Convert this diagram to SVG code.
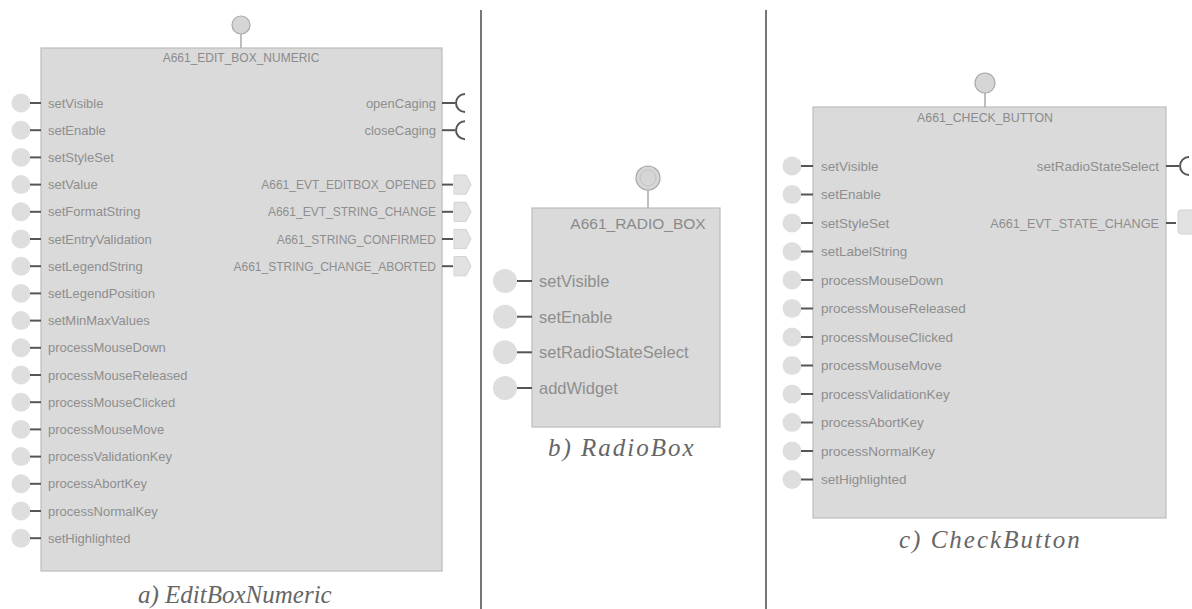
<svg xmlns="http://www.w3.org/2000/svg" width="1192" height="609" viewBox="0 0 1192 609">
<style>
.box{fill:#dadada;stroke:#bdbdbd;stroke-width:1.2}
.port{fill:#dedede}
.top{fill:#d6d6d6;stroke:#a8a8a8;stroke-width:1.2}
.stem{stroke:#a8a8a8;stroke-width:1.5}
.wire{stroke:#555;stroke-width:2}
.req{fill:none;stroke:#555;stroke-width:2}
.evt{fill:#e2e2e2;stroke:#d2d2d2;stroke-width:1}
.lbl{font-family:"Liberation Sans",Arial,sans-serif;fill:#8e8e8e}
.s13{font-size:13px}
.s135{font-size:13.5px}
.s165{font-size:16.5px}
.caps12{font-size:12px}
.caps127{font-size:12.7px}
.ttl{font-family:"Liberation Sans",Arial,sans-serif;fill:#8a8a8a;text-anchor:middle}
.end{text-anchor:end}
.cap{font-family:"Liberation Serif","Times New Roman",serif;font-style:italic;font-size:25px;fill:#666}
.div{stroke:#777;stroke-width:2}
</style>
<g id="dividers">
<line class="div" x1="481" y1="10" x2="481" y2="609"/>
<line class="div" x1="766" y1="10" x2="766" y2="609"/>
</g>

<g id="editbox">
<rect class="box" x="41" y="48" width="401" height="523"/>
<text class="ttl" x="241" y="62" font-size="12">A661_EDIT_BOX_NUMERIC</text>
<g class="lbl s13">
<text x="48" y="107.5">setVisible</text>
<text x="48" y="134.7">setEnable</text>
<text x="48" y="161.9">setStyleSet</text>
<text x="48" y="189.1">setValue</text>
<text x="48" y="216.3">setFormatString</text>
<text x="48" y="243.5">setEntryValidation</text>
<text x="48" y="270.7">setLegendString</text>
<text x="48" y="297.9">setLegendPosition</text>
<text x="48" y="325.1">setMinMaxValues</text>
<text x="48" y="352.3">processMouseDown</text>
<text x="48" y="379.5">processMouseReleased</text>
<text x="48" y="406.7">processMouseClicked</text>
<text x="48" y="433.9">processMouseMove</text>
<text x="48" y="461.1">processValidationKey</text>
<text x="48" y="488.3">processAbortKey</text>
<text x="48" y="515.5">processNormalKey</text>
<text x="48" y="542.7">setHighlighted</text>
<text class="end" x="436" y="107.5">openCaging</text>
<text class="end" x="436" y="134.7">closeCaging</text>
<text class="end caps12" x="436" y="189.1">A661_EVT_EDITBOX_OPENED</text>
<text class="end caps12" x="436" y="216.3">A661_EVT_STRING_CHANGE</text>
<text class="end caps12" x="436" y="243.5">A661_STRING_CONFIRMED</text>
<text class="end caps12" x="436" y="270.7">A661_STRING_CHANGE_ABORTED</text>
</g>
</g>

<g id="radiobox">
<rect class="box" x="532" y="208" width="188" height="219"/>
<text class="ttl" x="638" y="229" font-size="15.5">A661_RADIO_BOX</text>
<g class="lbl s165">
<text x="539" y="287">setVisible</text>
<text x="539" y="322.7">setEnable</text>
<text x="539" y="358.3">setRadioStateSelect</text>
<text x="539" y="394">addWidget</text>
</g>
</g>

<g id="checkbutton">
<rect class="box" x="813" y="107" width="353" height="411"/>
<text class="ttl" x="985" y="122" font-size="12.3">A661_CHECK_BUTTON</text>
<g class="lbl s135">
<text x="821" y="170.5">setVisible</text>
<text x="821" y="199">setEnable</text>
<text x="821" y="227.5">setStyleSet</text>
<text x="821" y="256">setLabelString</text>
<text x="821" y="284.5">processMouseDown</text>
<text x="821" y="313">processMouseReleased</text>
<text x="821" y="341.5">processMouseClicked</text>
<text x="821" y="370">processMouseMove</text>
<text x="821" y="398.5">processValidationKey</text>
<text x="821" y="427">processAbortKey</text>
<text x="821" y="455.5">processNormalKey</text>
<text x="821" y="484">setHighlighted</text>
<text class="end" x="1159" y="170.5">setRadioStateSelect</text>
<text class="end caps127" x="1159" y="227.5">A661_EVT_STATE_CHANGE</text>
</g>
</g>

<g id="connectors">
<!-- edit box -->
<line class="stem" x1="241" y1="34" x2="241" y2="48"/>
<circle class="top" cx="241" cy="25" r="9"/>
<g id="eb-in">
<circle class="port" cx="21" cy="103" r="9.5"/><line class="wire" x1="30" y1="103" x2="41" y2="103"/>
<circle class="port" cx="21" cy="130.2" r="9.5"/><line class="wire" x1="30" y1="130.2" x2="41" y2="130.2"/>
<circle class="port" cx="21" cy="157.4" r="9.5"/><line class="wire" x1="30" y1="157.4" x2="41" y2="157.4"/>
<circle class="port" cx="21" cy="184.6" r="9.5"/><line class="wire" x1="30" y1="184.6" x2="41" y2="184.6"/>
<circle class="port" cx="21" cy="211.8" r="9.5"/><line class="wire" x1="30" y1="211.8" x2="41" y2="211.8"/>
<circle class="port" cx="21" cy="239" r="9.5"/><line class="wire" x1="30" y1="239" x2="41" y2="239"/>
<circle class="port" cx="21" cy="266.2" r="9.5"/><line class="wire" x1="30" y1="266.2" x2="41" y2="266.2"/>
<circle class="port" cx="21" cy="293.4" r="9.5"/><line class="wire" x1="30" y1="293.4" x2="41" y2="293.4"/>
<circle class="port" cx="21" cy="320.6" r="9.5"/><line class="wire" x1="30" y1="320.6" x2="41" y2="320.6"/>
<circle class="port" cx="21" cy="347.8" r="9.5"/><line class="wire" x1="30" y1="347.8" x2="41" y2="347.8"/>
<circle class="port" cx="21" cy="375" r="9.5"/><line class="wire" x1="30" y1="375" x2="41" y2="375"/>
<circle class="port" cx="21" cy="402.2" r="9.5"/><line class="wire" x1="30" y1="402.2" x2="41" y2="402.2"/>
<circle class="port" cx="21" cy="429.4" r="9.5"/><line class="wire" x1="30" y1="429.4" x2="41" y2="429.4"/>
<circle class="port" cx="21" cy="456.6" r="9.5"/><line class="wire" x1="30" y1="456.6" x2="41" y2="456.6"/>
<circle class="port" cx="21" cy="483.8" r="9.5"/><line class="wire" x1="30" y1="483.8" x2="41" y2="483.8"/>
<circle class="port" cx="21" cy="511" r="9.5"/><line class="wire" x1="30" y1="511" x2="41" y2="511"/>
<circle class="port" cx="21" cy="538.2" r="9.5"/><line class="wire" x1="30" y1="538.2" x2="41" y2="538.2"/>
</g>
<g id="eb-out">
<line class="wire" x1="442" y1="103" x2="455" y2="103"/><path class="req" d="M465 94 A9 9 0 0 0 465 112"/>
<line class="wire" x1="442" y1="130.2" x2="455" y2="130.2"/><path class="req" d="M465 121.2 A9 9 0 0 0 465 139.2"/>
<line class="wire" x1="442" y1="184.6" x2="453" y2="184.6"/><path class="evt" d="M454 175 H466 L471 184.6 L466 194.2 H454 Z"/>
<line class="wire" x1="442" y1="211.8" x2="453" y2="211.8"/><path class="evt" d="M454 202.2 H466 L471 211.8 L466 221.4 H454 Z"/>
<line class="wire" x1="442" y1="239" x2="453" y2="239"/><path class="evt" d="M454 229.4 H466 L471 239 L466 248.6 H454 Z"/>
<line class="wire" x1="442" y1="266.2" x2="453" y2="266.2"/><path class="evt" d="M454 256.6 H466 L471 266.2 L466 275.8 H454 Z"/>
</g>
<!-- radio box -->
<line class="stem" x1="648" y1="190" x2="648" y2="208"/>
<circle class="top" cx="648" cy="178" r="12"/>
<circle cx="648" cy="178" r="8" fill="none" stroke="#c4c4c4" stroke-width="1"/>
<g id="rb-in">
<circle class="port" cx="505" cy="281" r="12"/><line class="wire" x1="517" y1="281" x2="532" y2="281"/>
<circle class="port" cx="505" cy="316.7" r="12"/><line class="wire" x1="517" y1="316.7" x2="532" y2="316.7"/>
<circle class="port" cx="505" cy="352.3" r="12"/><line class="wire" x1="517" y1="352.3" x2="532" y2="352.3"/>
<circle class="port" cx="505" cy="388" r="12"/><line class="wire" x1="517" y1="388" x2="532" y2="388"/>
</g>
<!-- check button -->
<line class="stem" x1="985" y1="93" x2="985" y2="107"/>
<circle class="top" cx="985" cy="83" r="10"/>
<g id="cb-in">
<circle class="port" cx="792" cy="166" r="9.5"/><line class="wire" x1="801" y1="166" x2="813" y2="166"/>
<circle class="port" cx="792" cy="194.5" r="9.5"/><line class="wire" x1="801" y1="194.5" x2="813" y2="194.5"/>
<circle class="port" cx="792" cy="223" r="9.5"/><line class="wire" x1="801" y1="223" x2="813" y2="223"/>
<circle class="port" cx="792" cy="251.5" r="9.5"/><line class="wire" x1="801" y1="251.5" x2="813" y2="251.5"/>
<circle class="port" cx="792" cy="280" r="9.5"/><line class="wire" x1="801" y1="280" x2="813" y2="280"/>
<circle class="port" cx="792" cy="308.5" r="9.5"/><line class="wire" x1="801" y1="308.5" x2="813" y2="308.5"/>
<circle class="port" cx="792" cy="337" r="9.5"/><line class="wire" x1="801" y1="337" x2="813" y2="337"/>
<circle class="port" cx="792" cy="365.5" r="9.5"/><line class="wire" x1="801" y1="365.5" x2="813" y2="365.5"/>
<circle class="port" cx="792" cy="394" r="9.5"/><line class="wire" x1="801" y1="394" x2="813" y2="394"/>
<circle class="port" cx="792" cy="422.5" r="9.5"/><line class="wire" x1="801" y1="422.5" x2="813" y2="422.5"/>
<circle class="port" cx="792" cy="451" r="9.5"/><line class="wire" x1="801" y1="451" x2="813" y2="451"/>
<circle class="port" cx="792" cy="479.5" r="9.5"/><line class="wire" x1="801" y1="479.5" x2="813" y2="479.5"/>
</g>
<g id="cb-out">
<line class="wire" x1="1166" y1="166" x2="1179" y2="166"/><path class="req" d="M1189 157 A9 9 0 0 0 1189 175"/>
<line class="wire" x1="1166" y1="223" x2="1176" y2="223"/><rect class="evt" x="1178" y="210" width="20" height="24" rx="3"/>
</g>
</g>

<g id="captions">
<text class="cap" x="138" y="603">a) EditBoxNumeric</text>
<text class="cap" x="548" y="456" letter-spacing="2">b) RadioBox</text>
<text class="cap" x="899" y="548" letter-spacing="2">c) CheckButton</text>
</g>
</svg>
